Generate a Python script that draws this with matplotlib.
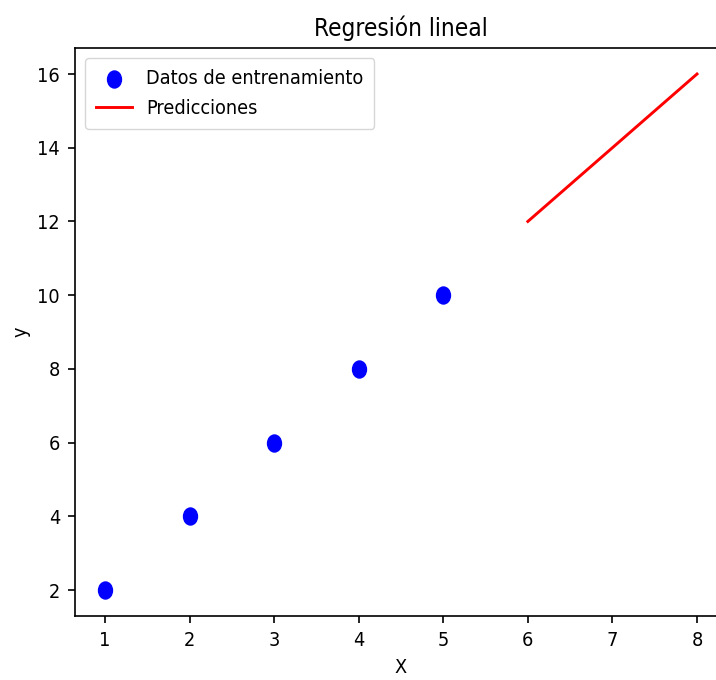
import matplotlib
matplotlib.use("Agg")
import matplotlib.pyplot as plt
from matplotlib.path import Path
from matplotlib.transforms import Affine2D

X_train = [1, 2, 3, 4, 5]
y_train = [2, 4, 6, 8, 10]
X_test = [6, 7, 8]
y_pred = [12, 14, 16]

plt.rcParams['font.family'] = 'DejaVu Sans'
plt.rcParams['font.stretch'] = 'condensed'
plt.rcParams['font.size'] = 14.2
plt.rcParams['axes.linewidth'] = 1.2
plt.rcParams['xtick.major.size'] = 5
plt.rcParams['ytick.major.size'] = 5
plt.rcParams['xtick.major.width'] = 1.2
plt.rcParams['ytick.major.width'] = 1.2
plt.rcParams['xtick.major.pad'] = 6
plt.rcParams['ytick.major.pad'] = 6

# the source image is squeezed sideways, so the dots are slightly oval
oval = Path.unit_circle().transformed(Affine2D().scale(0.82, 1.0))

fig = plt.figure(figsize=(7.16, 6.8), dpi=100)
ax = fig.add_axes([0.1053, 0.0944, 0.9095, 0.8347])
ax.scatter(X_train, y_train, color='blue', marker=oval, s=150, label='Datos de entrenamiento')
ax.plot(X_test, y_pred, color='red', linewidth=2.1, label='Predicciones')
ax.set_xlabel('X', labelpad=6)
ax.set_ylabel('y', labelpad=5)
ax.set_title('Regresión lineal', fontsize=17.5, pad=9)
ax.legend(loc='upper left', borderpad=0.55, handlelength=1.8, handletextpad=0.75, labelspacing=0.55)

fig.savefig('out.png', dpi=100)
